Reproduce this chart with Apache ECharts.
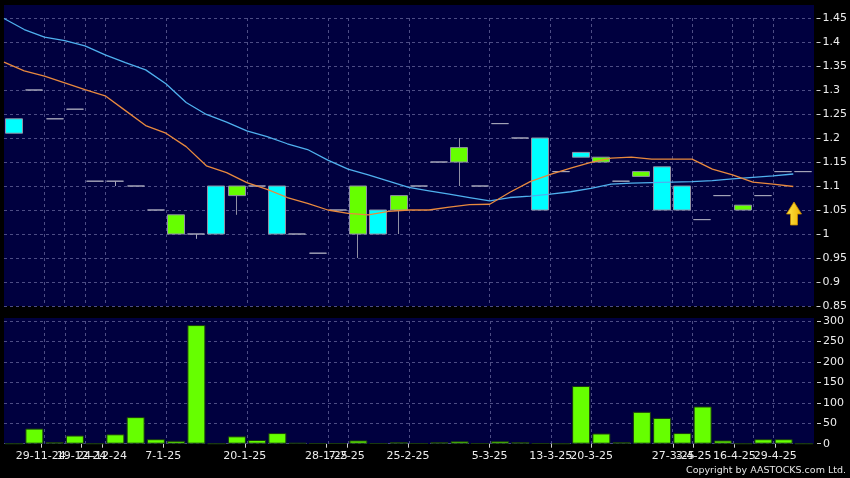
<!DOCTYPE html>
<html><head><meta charset="utf-8">
<script src="https://cdn.jsdelivr.net/npm/echarts@6/dist/echarts.min.js"></script>
<style>html,body{margin:0;padding:0;background:#000;}#c{width:850px;height:478px;}</style>
</head><body><div id="c"></div>
<script>
// ---- data ----
const openP  = [1.24,1.30,1.24,1.26,1.11,1.11,1.10,1.05,1.00,1.00,1.10,1.08,1.10,1.10,1.00,0.96,1.05,1.00,1.05,1.05,1.10,1.15,1.15,1.10,1.23,1.20,1.20,1.13,1.17,1.15,1.11,1.12,1.14,1.10,1.03,1.08,1.05,1.08,1.13,1.13];
const closeP = [1.21,1.30,1.24,1.26,1.11,1.11,1.10,1.05,1.04,1.00,1.00,1.10,1.10,1.00,1.00,0.96,1.05,1.10,1.00,1.08,1.10,1.15,1.18,1.10,1.23,1.20,1.05,1.13,1.16,1.16,1.11,1.13,1.05,1.05,1.03,1.08,1.06,1.08,1.13,1.13];
const lowP   = [1.21,1.30,1.24,1.26,1.11,1.10,1.10,1.05,1.00,0.99,1.00,1.04,1.10,1.00,1.00,0.96,1.05,0.95,1.00,1.00,1.10,1.15,1.10,1.10,1.23,1.20,1.05,1.13,1.16,1.15,1.11,1.12,1.05,1.05,1.03,1.08,1.05,1.08,1.13,1.13];
const highP  = [1.24,1.30,1.24,1.26,1.11,1.11,1.10,1.05,1.04,1.00,1.10,1.10,1.10,1.10,1.00,0.96,1.05,1.10,1.05,1.08,1.10,1.15,1.20,1.10,1.23,1.20,1.20,1.13,1.17,1.16,1.11,1.13,1.14,1.10,1.03,1.08,1.06,1.08,1.13,1.13];
const volume = [0,37,4,20,0,23,65,11,7,290,0,18,9,26,2,1,1,8,1,4,1,4,6,1,6,4,1,0,141,25,4,78,63,26,91,8,0,11,11,0];
const maBlue   = [1.449,1.426,1.410,1.403,1.392,1.373,1.357,1.342,1.313,1.274,1.249,1.233,1.215,1.203,1.188,1.176,1.154,1.135,1.123,1.110,1.097,1.090,1.083,1.076,1.069,1.076,1.079,1.083,1.088,1.095,1.104,1.106,1.107,1.108,1.109,1.111,1.115,1.118,1.121,1.125];
const maOrange = [1.358,1.340,1.329,1.315,1.301,1.288,1.257,1.226,1.210,1.182,1.142,1.128,1.107,1.093,1.076,1.064,1.050,1.043,1.040,1.047,1.050,1.050,1.056,1.061,1.062,1.087,1.109,1.124,1.137,1.149,1.158,1.160,1.156,1.156,1.156,1.135,1.123,1.108,1.104,1.099];
const labelSlots = [2,3,4,5,8,12,16,17,20,24,27,29,33,34,36,37,38];
const labelTexts = ['29-11-24','11-12-24','19-12-24','24-12-24','7-1-25','20-1-25','28-1-25','7-2-25','25-2-25','5-3-25','13-3-25','20-3-25','27-3-25','3-4-25','16-4-25','25-4-25','29-4-25'];
const priceMin = 0.85, priceMax = 1.45, priceStep = 0.05;
const volMin = 0, volMax = 300, volStep = 50;
const copyrightText = 'Copyright by AASTOCKS.com Ltd.';

// ---- build ----
const n = openP.length;
const slotCats = openP.map((_, i) => String(i));
const edgeCats = [];
for (let i = 0; i <= n; i++) {
  const k = labelSlots.indexOf(i);
  edgeCats.push(k >= 0 ? labelTexts[k] : '');
}
const isLabel = idx => labelSlots.indexOf(idx) >= 0;
const dojiColor = '#a4a4b8';
const candleData = openP.map((o, i) => {
  const item = { value: [o, closeP[i], lowP[i], highP[i]] };
  if (o === closeP[i]) {
    item.itemStyle = { color: dojiColor, color0: dojiColor, borderColor: dojiColor, borderColor0: dojiColor };
  }
  return item;
});

const gridLine = { show: true, lineStyle: { color: '#4d4d85', type: [3, 3], width: 1 } };
const font = 'DejaVu Sans';
const labelColor = '#ececec';

const chart = echarts.init(document.getElementById('c'), null, { renderer: 'canvas' });
chart.setOption({
  animation: false,
  backgroundColor: '#000000',
  graphic: [
    { type: 'rect', z: -100, silent: true, shape: { x: 4, y: 5, width: 810, height: 301 }, style: { fill: '#00003f' } },
    { type: 'rect', z: -100, silent: true, shape: { x: 4, y: 318, width: 810, height: 126 }, style: { fill: '#00003f' } },
    { type: 'polygon', z: 100, silent: true,
      shape: { points: [[794, 202], [801.5, 214], [797.5, 214], [797.5, 225], [790.5, 225], [790.5, 214], [786.5, 214]] },
      style: { fill: new echarts.graphic.LinearGradient(0, 0, 1, 0, [{ offset: 0, color: '#ffe84a' }, { offset: 1, color: '#f0b000' }]), stroke: '#c88a00', lineWidth: 0.8 } },
    { type: 'text', z: 100, silent: true, x: 846, y: 471,
      style: { text: copyrightText, fill: '#e6e6e6', font: '9.5px "DejaVu Sans"', align: 'right', verticalAlign: 'middle' } }
  ],
  grid: [
    { left: 4, right: 36, top: 18, height: 288 },
    { left: 4, right: 36, top: 321, height: 122.7 },
    { left: 0, right: 34, top: 321, height: 122.7 }
  ],
  xAxis: [
    { type: 'category', gridIndex: 0, data: slotCats, boundaryGap: true, show: false, position: 'top' },
    { type: 'category', gridIndex: 0, data: edgeCats, boundaryGap: false, position: 'bottom',
      axisLine: { show: false }, axisTick: { show: false }, axisLabel: { show: false },
      splitLine: Object.assign({ interval: (idx) => isLabel(idx) }, gridLine) },
    { type: 'category', gridIndex: 1, data: slotCats, boundaryGap: true, show: false, position: 'top' },
    { type: 'category', gridIndex: 1, data: edgeCats, boundaryGap: false, position: 'bottom',
      axisLine: { show: false }, axisTick: { show: false }, axisLabel: { show: false },
      splitLine: Object.assign({ interval: (idx) => isLabel(idx) }, gridLine) },
    { type: 'category', gridIndex: 2, data: edgeCats, boundaryGap: false, position: 'bottom',
      axisLine: { show: false },
      axisTick: { show: true, interval: (idx) => isLabel(idx), length: 4, lineStyle: { color: '#cfcfcf' } },
      axisLabel: { show: true, interval: (idx) => isLabel(idx), color: labelColor, fontFamily: font, fontSize: 11, margin: 7,
        hideOverlap: false, showMinLabel: true, showMaxLabel: true },
      splitLine: { show: false } }
  ],
  yAxis: [
    { type: 'value', gridIndex: 0, position: 'right', min: priceMin, max: priceMax, interval: priceStep, offset: 3,
      axisLine: { show: false },
      axisTick: { show: true, length: 4, lineStyle: { color: '#cfcfcf' } },
      axisLabel: { color: labelColor, fontFamily: font, fontSize: 11, margin: 6, formatter: v => String(+v.toFixed(2)) },
      splitLine: gridLine },
    { type: 'value', gridIndex: 1, position: 'right', min: volMin, max: volMax, interval: volStep, offset: 3,
      axisLine: { show: false },
      axisTick: { show: true, length: 4, lineStyle: { color: '#cfcfcf' } },
      axisLabel: { color: labelColor, fontFamily: font, fontSize: 11, margin: 6 },
      splitLine: gridLine },
    { type: 'value', gridIndex: 2, min: volMin, max: volMax, show: false }
  ],
  series: [
    { type: 'candlestick', xAxisIndex: 0, yAxisIndex: 0, barWidth: 17.5, data: candleData,
      itemStyle: { color: '#66ff00', color0: '#00ffff', borderColor: '#9090a4', borderColor0: '#9090a4', borderWidth: 1 } },
    { type: 'line', xAxisIndex: 1, yAxisIndex: 0, data: maBlue, symbol: 'none', smooth: false,
      lineStyle: { color: '#4fb0ee', width: 1.3 } },
    { type: 'line', xAxisIndex: 1, yAxisIndex: 0, data: maOrange, symbol: 'none', smooth: false,
      lineStyle: { color: '#e8893e', width: 1.3 } },
    { type: 'bar', xAxisIndex: 2, yAxisIndex: 1, data: volume, barWidth: 18,
      itemStyle: { color: '#66ff00', borderColor: '#1a3a10', borderWidth: 1 } }
  ]
});
</script>
</body></html>
